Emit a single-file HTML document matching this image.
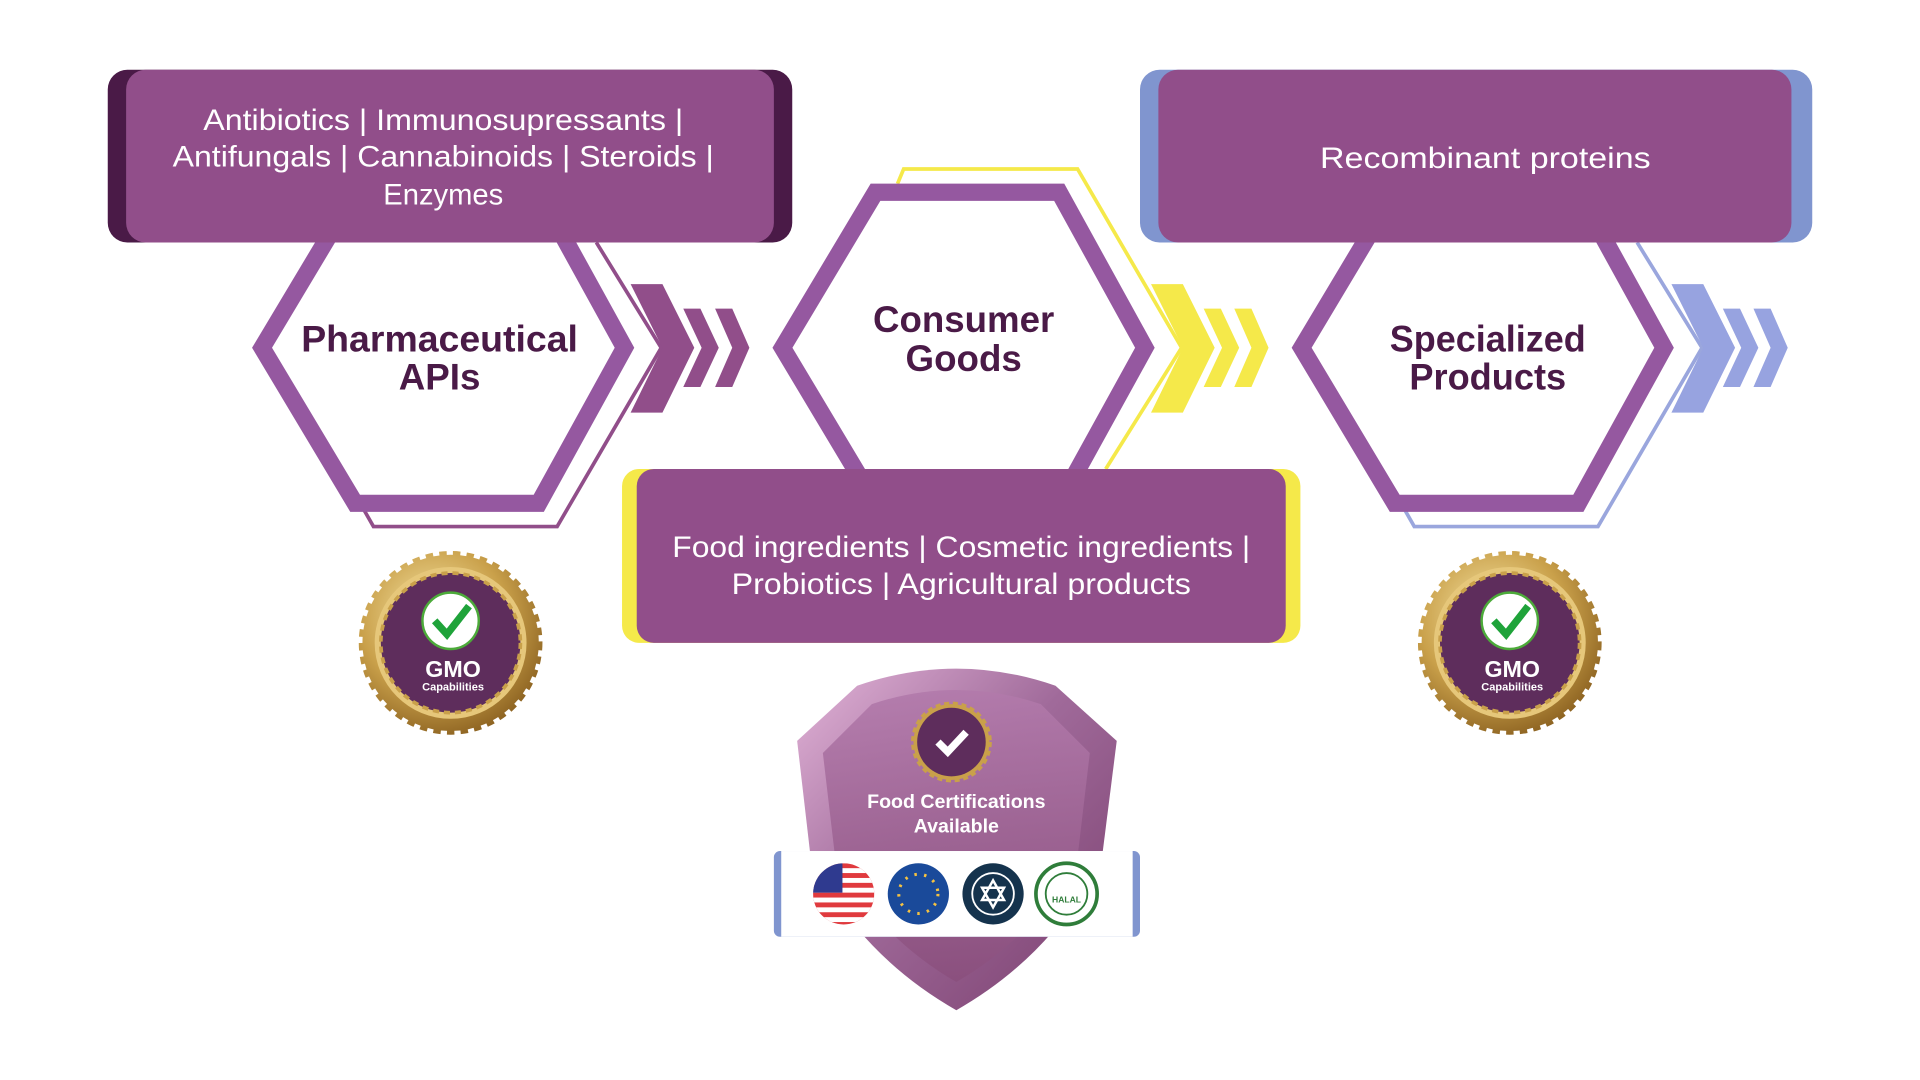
<!DOCTYPE html>
<html><head><meta charset="utf-8"><style>html,body{margin:0;padding:0;background:#fff}svg{display:block}</style></head>
<body>
<svg width="1920" height="1080" viewBox="0 0 1568 882" xmlns="http://www.w3.org/2000/svg" font-family="Liberation Sans, sans-serif">
<defs>
<linearGradient id="sh" x1="0" y1="0" x2="1" y2="1">
<stop offset="0" stop-color="#e2b4d8"/><stop offset="0.45" stop-color="#a06a9a"/><stop offset="1" stop-color="#7a3f6e"/></linearGradient>
<linearGradient id="sh2" x1="0" y1="0" x2="0" y2="1">
<stop offset="0" stop-color="#b27aab"/><stop offset="1" stop-color="#8a4f7d"/></linearGradient>
<radialGradient id="gold" cx="0.4" cy="0.35" r="0.7"><stop offset="0" stop-color="#f7e6a6"/><stop offset="0.6" stop-color="#c9a04a"/><stop offset="1" stop-color="#8e6422"/></radialGradient>
<clipPath id="flag"><circle cx="689" cy="730" r="25"/></clipPath>
</defs>

<polyline points="487,198 540,284 455,430 305,430 297,416" fill="none" stroke="#914e8a" stroke-width="3"/>
<polyline points="733,150 738,138 880,138 965,284 903,383" fill="none" stroke="#f5e94a" stroke-width="3"/>
<polyline points="1337,198 1390,284 1305,430 1155,430 1147,416" fill="none" stroke="#9aa6dd" stroke-width="3"/>

<polygon points="214,284 290,157 440,157 510,284 440,411 290,411" fill="#fff" stroke="#9558a0" stroke-width="14"/>
<polygon points="639,284 715,157 865,157 935,284 865,411 715,411" fill="#fff" stroke="#9558a0" stroke-width="14"/>
<polygon points="1063,284 1139,157 1289,157 1359,284 1289,411 1139,411" fill="#fff" stroke="#9558a0" stroke-width="14"/>

<g fill="#914e8a">
<polygon points="515,232 541,232 567,284 541,337 515,337 541,284"/>
<polygon points="558,252 572,252 587,284 572,316 558,316 573,284"/>
<polygon points="584,252 598,252 612,284 598,316 584,316 598,284"/>
</g>
<g fill="#f5e94a">
<polygon points="940,232 966,232 992,284 966,337 940,337 966,284"/>
<polygon points="983,252 997,252 1012,284 997,316 983,316 998,284"/>
<polygon points="1008,252 1022,252 1036,284 1022,316 1008,316 1022,284"/>
</g>
<g fill="#97a3e0">
<polygon points="1365,232 1391,232 1417,284 1391,337 1365,337 1391,284"/>
<polygon points="1407,252 1421,252 1436,284 1421,316 1407,316 1422,284"/>
<polygon points="1432,252 1446,252 1460,284 1446,316 1432,316 1446,284"/>
</g>

<g fill="#4a1a47" font-weight="bold" font-size="30" text-anchor="middle">
<text x="359" y="287" textLength="226" lengthAdjust="spacingAndGlyphs">Pharmaceutical</text>
<text x="359" y="318">APIs</text>
<text x="787" y="271" textLength="148" lengthAdjust="spacingAndGlyphs">Consumer</text>
<text x="787" y="303">Goods</text>
<text x="1215" y="287" textLength="160" lengthAdjust="spacingAndGlyphs">Specialized</text>
<text x="1215" y="318" textLength="128" lengthAdjust="spacingAndGlyphs">Products</text>
</g>

<rect x="88" y="57" width="559" height="141" rx="16" fill="#4a1a47"/>
<rect x="103" y="57" width="529" height="141" rx="16" fill="#914e8a"/>
<g fill="#fff" font-size="24" text-anchor="middle">
<text x="362" y="106" textLength="392" lengthAdjust="spacingAndGlyphs">Antibiotics | Immunosupressants |</text>
<text x="362" y="136" textLength="442" lengthAdjust="spacingAndGlyphs">Antifungals | Cannabinoids | Steroids |</text>
<text x="362" y="167" textLength="98" lengthAdjust="spacingAndGlyphs">Enzymes</text>
</g>

<rect x="931" y="57" width="549" height="141" rx="16" fill="#8095cf"/>
<rect x="946" y="57" width="517" height="141" rx="16" fill="#914e8a"/>
<text x="1213" y="137" fill="#fff" font-size="24" text-anchor="middle" textLength="270" lengthAdjust="spacingAndGlyphs">Recombinant proteins</text>

<rect x="508" y="383" width="554" height="142" rx="14" fill="#f5e94a"/>
<rect x="520" y="383" width="530" height="142" rx="14" fill="#914e8a"/>
<g fill="#fff" font-size="24" text-anchor="middle">
<text x="785" y="455" textLength="472" lengthAdjust="spacingAndGlyphs">Food ingredients | Cosmetic ingredients |</text>
<text x="785" y="485" textLength="375" lengthAdjust="spacingAndGlyphs">Probiotics | Agricultural products</text>
</g>

<g id="gmo">
<circle cx="368" cy="525" r="72" fill="url(#gold)" stroke="url(#gold)" stroke-width="6" stroke-dasharray="6 5"/>
<circle cx="368" cy="525" r="62" fill="#e6c77a"/>
<circle cx="368" cy="525" r="57" fill="#5e2d5c" stroke="#c9a04a" stroke-width="3" stroke-dasharray="5 4"/>
<circle cx="368" cy="507" r="23" fill="#fff" stroke="#4caa3a" stroke-width="2"/>
<polyline points="355,507 365,518 383,495" fill="none" stroke="#1fa33a" stroke-width="6"/>
<text x="370" y="553" fill="#fff" font-size="19" font-weight="bold" text-anchor="middle">GMO</text>
<text x="370" y="564" fill="#fff" font-size="9" font-weight="bold" text-anchor="middle">Capabilities</text>
</g>
<use href="#gmo" transform="translate(865,0)"/>

<path d="M651,605 L700,560 Q781,532 862,560 L912,605 L900,700 Q860,780 781,825 Q702,780 662,700 Z" fill="url(#sh)"/>
<path d="M672,615 L712,575 Q781,552 850,575 L890,615 L880,700 Q845,765 781,802 Q717,765 682,700 Z" fill="url(#sh2)" opacity="0.9"/>
<circle cx="777" cy="606" r="31" fill="#c9a04a" stroke="#c9a04a" stroke-width="4" stroke-dasharray="4 3"/>
<circle cx="777" cy="606" r="28" fill="#5e2d5c"/>
<polyline points="766,606 774,614 789,598" fill="none" stroke="#fff" stroke-width="6"/>
<g fill="#fff" font-size="16" font-weight="bold" text-anchor="middle">
<text x="781" y="660">Food Certifications</text>
<text x="781" y="680">Available</text>
</g>

<rect x="632" y="695" width="299" height="70" rx="5" fill="#8095cf"/>
<rect x="638" y="695" width="287" height="70" fill="#fff"/>
<g clip-path="url(#flag)">
<rect x="664" y="705" width="50" height="50" fill="#e03a3e"/>
<g fill="#fff"><rect x="664" y="709" width="50" height="4"/><rect x="664" y="717" width="50" height="4"/><rect x="664" y="725" width="50" height="4"/><rect x="664" y="733" width="50" height="4"/><rect x="664" y="741" width="50" height="4"/><rect x="664" y="749" width="50" height="4"/></g>
<rect x="664" y="705" width="24" height="24" fill="#2f3a8f"/>
</g>
<circle cx="750" cy="730" r="25" fill="#1a4a9a"/>
<circle cx="750" cy="730" r="16" fill="none" stroke="#f5c242" stroke-width="2.5" stroke-dasharray="2 6"/>
<circle cx="811" cy="730" r="25" fill="#15334d"/>
<circle cx="811" cy="730" r="17" fill="none" stroke="#fff" stroke-width="1.5"/>
<polygon points="811,719 820,735 802,735" fill="none" stroke="#fff" stroke-width="2"/>
<polygon points="811,741 820,725 802,725" fill="none" stroke="#fff" stroke-width="2"/>
<circle cx="871" cy="730" r="25" fill="#fff" stroke="#2f7d3a" stroke-width="3"/>
<circle cx="871" cy="730" r="17" fill="none" stroke="#2f7d3a" stroke-width="1.5"/>
<text x="871" y="737" fill="#2f7d3a" font-size="7" font-weight="bold" text-anchor="middle">HALAL</text>
</svg>
</body></html>
